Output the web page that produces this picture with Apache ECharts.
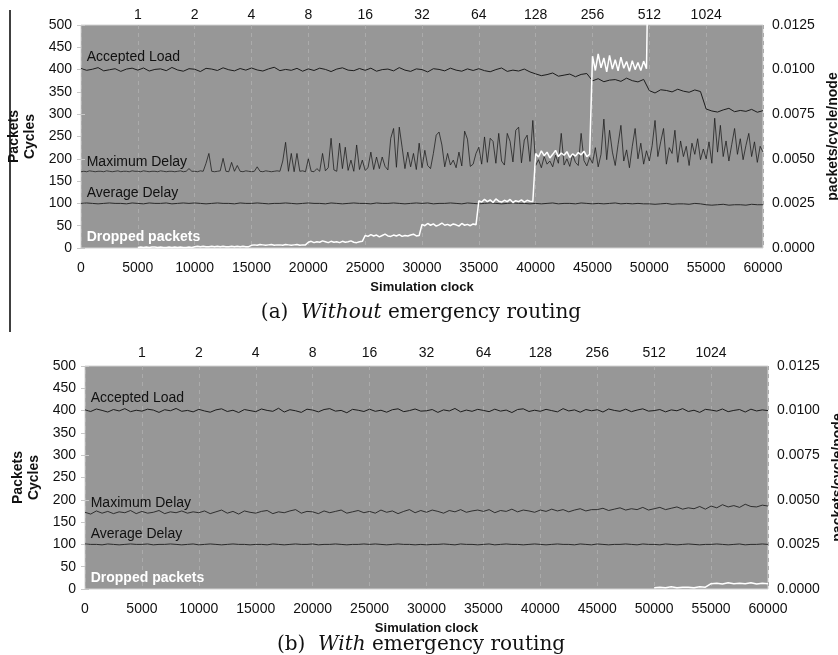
<!DOCTYPE html>
<html>
<head>
    <meta charset="utf-8">
    <style type="text/css">
        html,body { margin: 0px; padding: 0px; height: 100%; background: #fff; }
    </style>
    <script src="https://cdn.jsdelivr.net/npm/echarts@6/dist/echarts.min.js"></script>
</head>
<body>
    <div id="canvas" style="width: 838px; height: 655px;"></div>
    <script type="text/javascript">
        // 上轴标签 (5000, 10000, ... 55000)
        var topLabels = ['1','2','4','8','16','32','64','128','256','512','1024'];

        // (a) without emergency routing: accepted load, step 500 from x=0 (packets/cycle/node)
        var accA = [
            0.01006,0.00996,0.01002,0.01011,0.00993,0.00999,0.01005,0.00990,0.01003,0.01008,
            0.00997,0.01009,0.00992,0.01001,0.01004,0.00994,0.01012,0.00998,0.00991,0.01005,
            0.01002,0.00989,0.01007,0.01003,0.00995,0.01010,0.00999,0.00993,0.01006,0.00997,
            0.01009,0.00998,0.00992,0.01004,0.01013,0.00994,0.01001,0.00996,0.01007,0.00991,
            0.01004,0.00995,0.01008,0.01001,0.00989,0.01003,0.01010,0.00997,0.00994,0.01006,
            0.00996,0.01008,0.00991,0.01000,0.01003,0.00993,0.01011,0.00997,0.00990,0.01004,
            0.01000,0.00987,0.01005,0.01001,0.00993,0.01008,0.00997,0.00991,0.01004,0.00995,
            0.01005,0.00994,0.00988,0.01000,0.01009,0.00990,0.00997,0.00992,0.01003,0.00987,
            0.00976,0.00966,0.00972,0.00981,0.00963,0.00969,0.00975,0.00960,0.00973,0.00978,
            0.00937,0.00949,0.00932,0.00941,0.00944,0.00934,0.00952,0.00938,0.00931,0.00945,
            0.00882,0.00869,0.00887,0.00883,0.00875,0.00890,0.00879,0.00873,0.00886,0.00877,
            0.00779,0.00768,0.00762,0.00774,0.00783,0.00764,0.00771,0.00766,0.00777,0.00761,
            0.00770
        ];
        // (a) maximum delay, step 250 from x=0 (cycles)
        var maxA = [
            171,172,171,173,172,171,172,172,171,173,172,171,172,173,171,172,172,171,173,172,
            172,171,173,172,171,172,172,171,173,172,171,172,172,171,172,173,171,172,178,172,
            172,171,173,172,190,212,172,171,172,173,201,172,171,192,172,185,172,171,173,172,
            171,172,182,172,171,173,172,171,172,173,172,195,237,172,212,171,212,172,173,171,
            200,172,171,178,172,212,173,180,246,175,172,235,178,226,174,197,172,231,176,197,
            174,180,215,176,204,178,204,183,175,246,268,181,271,226,178,215,182,212,176,235,
            180,219,185,178,212,253,260,231,182,212,186,197,180,215,184,262,244,183,188,212,
            226,188,249,192,246,239,190,257,195,186,257,239,193,264,271,191,242,253,194,286,
            185,198,180,205,188,195,182,208,190,257,186,200,183,210,192,185,257,196,184,203,
            190,225,182,210,289,198,264,215,185,232,275,195,220,180,228,268,200,235,188,218,
            195,230,286,205,238,268,188,225,212,264,192,240,205,228,185,235,210,245,198,222,
            200,238,190,291,215,275,205,240,195,232,268,210,245,198,230,257,205,238,192,228,
            215
        ];
        // (a) average delay, step 500 from x=0 (cycles)
        var avgA = [
            100,101,100,99,100,101,100,100,99,101,
            100,99,101,100,100,101,99,100,101,100,
            101,100,99,100,101,100,100,99,101,100,
            100,101,100,99,100,100,101,100,99,100,
            101,100,100,99,101,100,99,100,101,100,
            100,99,101,100,100,101,100,99,100,101,
            100,101,99,100,100,101,100,99,101,100,
            99,100,101,100,99,100,101,100,100,99,
            100,99,100,101,99,100,100,99,101,100,
            99,100,99,100,101,99,100,99,100,99,
            99,98,99,100,98,99,99,98,100,99,
            97,96,97,98,96,97,97,96,98,97,
            97
        ];
        // (a) dropped packets, step 250 from x=5000 (packets)
        var dropA = [
            1,2,1,2,1,2,2,1,2,1,1,2,1,2,1,2,1,1,2,1,
            3,4,3,4,3,3,4,3,4,3,4,3,3,4,3,4,3,4,3,3,
            6,7,6,8,7,6,7,8,6,7,7,6,8,7,6,7,8,6,7,7,
            13,15,12,14,13,16,14,12,15,13,14,12,15,13,14,16,13,12,14,15,
            28,26,30,27,29,25,28,31,27,26,29,27,30,26,28,27,29,31,27,28,
            53,50,55,51,54,49,52,56,51,53,50,54,52,49,55,51,53,50,54,52,
            106,103,109,104,108,102,110,105,103,107,104,109,102,106,104,108,103,107,105,104,
            212,204,218,207,215,202,210,219,205,213,208,216,203,211,206,214,209,217,205,210,
            430,398,435,404,426,395,432,401,422,397,428,403,418,396,420,400,416,398,419,402,
            830,826,834,828,832,825,835,829,831,827,833,826,830,828,834,825,831,829,832,827,
            1650,1646,1655,1648,1652,1645,1657,1649,1651,1647,1654,1646,1650,1648,1656,1645,1651,1649,1653,1647,
            1652
        ];

        // (b) with emergency routing, step 500 from x=0
        var accB = [
            0.01004,0.00995,0.01009,0.01001,0.00992,0.01006,0.00998,0.01011,0.00994,0.01002,
            0.00997,0.01008,0.01003,0.00990,0.01005,0.00999,0.01012,0.00996,0.01001,0.00993,
            0.01007,0.00998,0.00991,0.01004,0.01010,0.00995,0.01002,0.00989,0.01006,0.01000,
            0.00994,0.01009,0.01001,0.00996,0.01013,0.00992,0.01005,0.00999,0.00990,0.01008,
            0.01003,0.00993,0.01006,0.01011,0.00997,0.01001,0.00988,0.01007,0.01002,0.00995,
            0.01008,0.00996,0.01002,0.00991,0.01005,0.01010,0.00994,0.01000,0.01009,0.00997,
            0.00999,0.01006,0.00990,0.01004,0.00998,0.01012,0.00993,0.01003,0.00996,0.01007,
            0.01001,0.00994,0.01008,0.00997,0.01003,0.00989,0.01006,0.01010,0.00995,0.01002,
            0.00996,0.01007,0.01000,0.00993,0.01011,0.00998,0.01004,0.00991,0.01006,0.00999,
            0.01005,0.00992,0.01009,0.01001,0.00996,0.01008,0.00994,0.01003,0.01010,0.00997,
            0.01000,0.01006,0.00993,0.01004,0.00999,0.01011,0.00995,0.01002,0.00990,0.01007,
            0.01003,0.00997,0.01009,0.00994,0.01001,0.01006,0.00992,0.01008,0.00998,0.01004,
            0.01000
        ];
        var maxB = [
            172,168,175,170,174,169,173,171,176,169,
            174,170,172,176,169,173,171,175,170,173,
            171,175,169,173,177,170,174,168,175,172,
            170,174,176,169,173,171,175,178,170,174,
            173,169,175,171,174,177,170,173,176,171,
            174,170,177,172,175,169,174,178,171,176,
            172,177,174,170,176,173,178,172,175,177,
            174,178,171,176,174,179,173,177,175,172,
            177,174,179,175,178,173,177,180,175,178,
            178,181,176,179,182,177,180,178,183,177,
            180,183,178,181,184,179,182,180,185,179,
            186,182,189,184,187,183,190,185,184,188,
            186
        ];
        var avgB = [
            101,100,100,99,101,100,99,100,101,100,
            100,101,99,100,100,101,100,99,100,101,
            99,100,101,100,99,100,101,100,100,99,
            100,100,99,101,100,99,100,101,100,100,
            101,99,100,100,101,100,99,100,100,101,
            100,101,100,99,100,101,100,100,99,100,
            99,100,100,101,100,99,101,100,100,99,
            100,101,99,100,101,100,100,99,100,101,
            100,99,100,101,100,100,99,101,100,99,
            101,100,99,100,100,101,100,99,101,100,
            100,99,101,100,99,100,101,100,99,100,
            100,101,100,99,100,101,99,100,100,101,
            100
        ];
        // (b) dropped packets, step 500 from x=50000
        var dropB = [
            3,4,3,5,3,4,4,3,5,4,
            12,13,11,14,12,13,12,14,11,13,
            12
        ];

        var FONT = 'Liberation Sans, Arial, sans-serif';
        var BG = '#979797';

        function pts(vals, x0, step){ // 转换为 [x, y]
            return vals.map(function(v, i){ return [x0 + i * step, v]; });
        }

        function bottomX(g){
            return {
                gridIndex: g, type: 'value', min: 0, max: 60000, interval: 5000,
                axisLine: {show: false}, axisTick: {show: false},
                axisLabel: {color: '#111', fontSize: 14, fontFamily: FONT, margin: 13,
                    formatter: function(v){ return String(v); }},
                splitLine: {show: true, lineStyle: {color: '#ababab', type: [4, 4], width: 1}},
                name: 'Simulation clock', nameLocation: 'middle', nameGap: 33,
                nameTextStyle: {color: '#111', fontSize: 13, fontWeight: 'bold', fontFamily: FONT}
            };
        }
        function topX(g, fam, m){
            return {
                gridIndex: g, type: 'value', position: 'top', min: 0, max: 60000, interval: 5000,
                axisLine: {show: false}, axisTick: {show: false}, splitLine: {show: false},
                axisLabel: {
                    color: '#111', fontSize: 14, fontFamily: fam, margin: m,
                    formatter: function(v){
                        var k = Math.round(v / 5000);
                        return (k >= 1 && k <= topLabels.length) ? topLabels[k - 1] : '';
                    }
                }
            };
        }
        function leftY(g){
            return {
                gridIndex: g, type: 'value', min: 0, max: 500, interval: 50,
                axisLine: {show: false},
                axisTick: {show: true, length: 4, lineStyle: {color: '#c8c8c8'}},
                axisLabel: {color: '#111', fontSize: 14, fontFamily: FONT, margin: 9},
                splitLine: {show: false},
                name: 'Packets\nCycles', nameLocation: 'middle', nameGap: 40, nameRotate: 90,
                nameTextStyle: {color: '#111', fontSize: 14, fontWeight: 'bold', fontFamily: FONT, lineHeight: 16}
            };
        }
        function rightY(g){
            return {
                gridIndex: g, type: 'value', position: 'right', min: 0, max: 0.0125, interval: 0.0025,
                axisLine: {show: false},
                axisTick: {show: true, length: 4, lineStyle: {color: '#c8c8c8'}},
                axisLabel: {color: '#111', fontSize: 14, fontFamily: FONT, margin: 9,
                    formatter: function(v){ return v.toFixed(4); }},
                splitLine: {show: false},
                name: 'packets/cycle/node', nameLocation: 'middle', nameGap: 61, nameRotate: 90,
                nameTextStyle: {color: '#111', fontSize: 14, fontWeight: 'bold', fontFamily: FONT}
            };
        }
        function line(name, data, xi, yi, color, width, op){
            return {
                name: name, type: 'line', data: data, xAxisIndex: xi, yAxisIndex: yi,
                showSymbol: false, symbol: 'none', animation: false,
                lineStyle: {color: color, width: width, opacity: op || 1}, clip: true
            };
        }

        var myChart = echarts.init(document.getElementById('canvas'));
        var option = {
            animation: false,
            grid: [
                {left: 81, right: 75, top: 25, height: 223, show: true, backgroundColor: BG, borderColor: '#d2d2d2', borderWidth: 1,
                    containLabel: false, outerBoundsMode: 'none'},
                {left: 85, right: 70, top: 366, height: 223, show: true, backgroundColor: BG, borderColor: '#d2d2d2', borderWidth: 1,
                    containLabel: false, outerBoundsMode: 'none'}
            ],
            xAxis: [bottomX(0), topX(0, FONT, 3), bottomX(1), topX(1, 'Liberation Sans Narrow, ' + FONT, 6)],
            yAxis: [leftY(0), rightY(0), leftY(1), rightY(1)],
            series: [
                line('Accepted Load', pts(accA, 0, 500), 0, 1, '#1c1c1c', 1),
                line('Maximum Delay', pts(maxA, 0, 250), 0, 0, '#1c1c1c', 0.9, 0.85),
                line('Average Delay', pts(avgA, 0, 500), 0, 0, '#2a2a2a', 1),
                line('Dropped packets', pts(dropA, 5000, 250), 0, 0, '#ffffff', 1.5),
                line('Accepted Load', pts(accB, 0, 500), 2, 3, '#1c1c1c', 1),
                line('Maximum Delay', pts(maxB, 0, 500), 2, 2, '#1c1c1c', 1, 0.85),
                line('Average Delay', pts(avgB, 0, 500), 2, 2, '#2a2a2a', 1),
                line('Dropped packets', pts(dropB, 50000, 500), 2, 2, '#ffffff', 1.5)
            ]
        };
        myChart.setOption(option);

        // 曲线标注
        var notes = [['Accepted Load', 428], ['Maximum Delay', 192], ['Average Delay', 124], ['Dropped packets', 25]];
        var graphics = [];
        [0, 1].forEach(function(g){
            notes.forEach(function(n){
                var p = myChart.convertToPixel({gridIndex: g}, [500, n[1]]);
                var dropped = n[0] === 'Dropped packets';
                graphics.push({
                    type: 'text', x: p[0], y: p[1], z: 100,
                    style: {text: n[0], fill: dropped ? '#fff' : '#111', align: 'left', verticalAlign: 'middle',
                        font: (dropped ? 'bold ' : '') + '14px ' + FONT}
                });
            });
        });
        // 子图标题
        var serif = 'DejaVu Serif, Liberation Serif, serif';
        [['(a)', 'Without', 313], ['(b)', 'With', 645]].forEach(function(c){
            graphics.push({
                type: 'text', x: 421, y: c[2],
                style: {
                    text: '{n|' + c[0] + '  }{i|' + c[1] + '}{n| emergency routing}',
                    align: 'center', verticalAlign: 'middle',
                    rich: {
                        n: {fontFamily: serif, fontSize: 20, fill: '#111'},
                        i: {fontFamily: serif, fontSize: 20, fontStyle: 'italic', fill: '#111'}
                    }
                }
            });
        });
        graphics.push({type: 'line', shape: {x1: 10, y1: 10, x2: 10, y2: 332}, style: {stroke: '#000', lineWidth: 1.5}});
        myChart.setOption({graphic: graphics});
    </script>
</body>
</html>
